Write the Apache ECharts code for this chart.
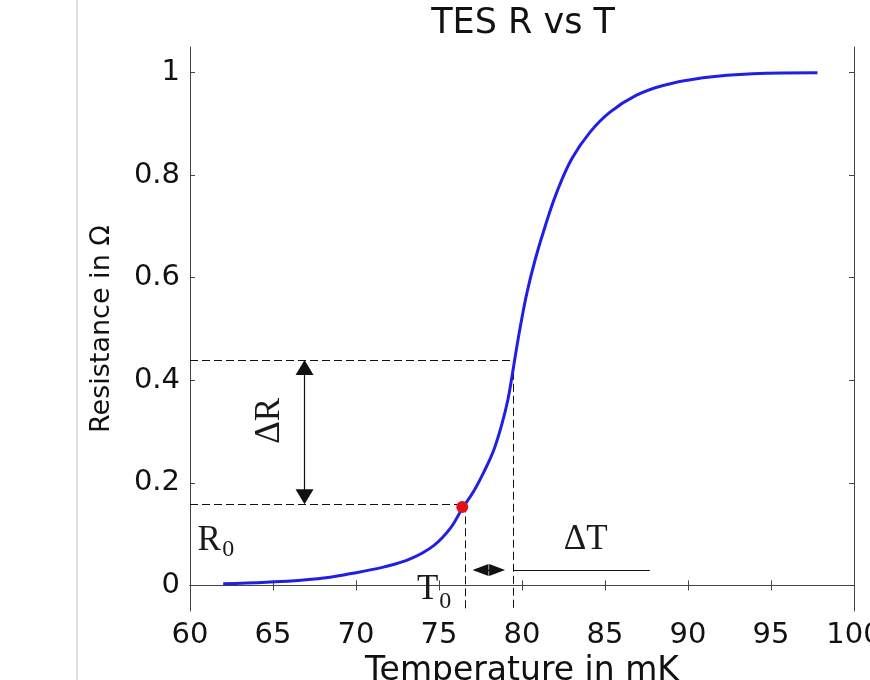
<!DOCTYPE html>
<html>
<head>
<meta charset="utf-8">
<script src="https://cdn.jsdelivr.net/npm/echarts@6/dist/echarts.min.js"></script>
<style>html,body{margin:0;padding:0;background:#fff}#c{width:870px;height:680px}</style>
</head>
<body>
<div id="c"></div>
<script>
// ---- data ----
const temps  = [62.0, 64.6, 67.7, 69.7, 71.7, 73.3, 74.7, 75.7, 76.4, 77.1, 77.7, 78.3, 78.8, 79.15, 79.4, 79.65, 79.9, 80.3, 80.8, 81.4, 82.1, 83.0, 84.1, 85.3, 86.9, 88.5, 90.9, 93.9, 97.8];
const resist = [0.003, 0.006, 0.013, 0.023, 0.036, 0.052, 0.078, 0.112, 0.150, 0.184, 0.221, 0.264, 0.316, 0.362, 0.408, 0.458, 0.505, 0.571, 0.636, 0.701, 0.767, 0.832, 0.884, 0.923, 0.956, 0.975, 0.990, 0.998, 1.000];
const xTicks = [60, 65, 70, 75, 80, 85, 90, 95, 100];
const yTicks = [0, 0.2, 0.4, 0.6, 0.8, 1];
const opPoint = [76.4, 0.153];          // red operating point
const lowMark  = {T: 76.6, R: 0.158};   // T0 / R0 dashed guides
const highMark = {T: 79.5, R: 0.44};    // upper dashed guides
const dRArrow  = {T: 66.9, R1: 0.425, R2: 0.173};   // vertical ΔR double arrow
const dTArrow  = {T1: 77.5, T2: 78.5, R: 0.03, lineEnd: 87.7};
const labels = [
  {text: 'R',  pos: [61.15, 0.086], size: 35},
  {text: '0',  pos: [62.30, 0.070], size: 24},
  {text: 'ΔR', pos: [64.78, 0.321], size: 35, rotate: 90},
  {text: 'T',  pos: [74.32, -0.008], size: 35},
  {text: '0',  pos: [75.38, -0.031], size: 24},
  {text: 'ΔT', pos: [83.83, 0.088], size: 35}
];
const yMin = -0.05, yMax = 1.05;

const chart = echarts.init(document.getElementById('c'));
const axisCol = '#444';
const dashed = {type: [8, 4], color: '#111', width: 1};
const arrowStyle = {type: 'solid', color: '#111', width: 1.2};

const option = {
  animation: false,
  backgroundColor: '#fff',
  title: {
    text: 'TES R vs T', left: 518, top: 1, textAlign: 'center',
    textStyle: {fontFamily: 'DejaVu Sans', fontSize: 35, fontWeight: 'normal', color: '#111'}
  },
  graphic: [{
    type: 'line', shape: {x1: 77, y1: 0, x2: 77, y2: 680},
    style: {stroke: '#e2e2e2', lineWidth: 2}, silent: true
  }],
  grid: {left: 190, right: 16, top: 47, bottom: 69, containLabel: false, outerBoundsMode: 'none'},
  xAxis: [{
    type: 'value', min: 60, max: 100, interval: 5, position: 'bottom',
    axisLine: {lineStyle: {color: axisCol}},
    axisTick: {inside: true, length: 5, lineStyle: {color: axisCol}},
    axisLabel: {fontFamily: 'DejaVu Sans', fontSize: 29, color: '#111', margin: 10, hideOverlap: false},
    splitLine: {show: false},
    name: 'Temperature in mK', nameLocation: 'middle', nameGap: 34,
    nameTextStyle: {fontFamily: 'DejaVu Sans', fontSize: 33, color: '#111'}
  }, {
    type: 'value', min: 60, max: 100, interval: 5, position: 'top',
    axisLine: {lineStyle: {color: axisCol}},
    axisTick: {inside: true, length: 5, lineStyle: {color: axisCol}},
    axisLabel: {show: false}, splitLine: {show: false}
  }],
  yAxis: [{
    type: 'value', min: yMin, max: yMax, position: 'left',
    axisLine: {show: true, lineStyle: {color: axisCol}},
    axisTick: {show: true, inside: true, length: 5, lineStyle: {color: axisCol}, customValues: yTicks},
    axisLabel: {fontFamily: 'DejaVu Sans', fontSize: 29, color: '#111', margin: 10, customValues: yTicks,
      formatter: v => String(Math.round(v * 10) / 10)},
    splitLine: {show: false},
    name: 'Resistance in Ω', nameLocation: 'middle', nameGap: 75, nameRotate: 90,
    nameTextStyle: {fontFamily: 'DejaVu Sans', fontSize: 27, color: '#111'}
  }, {
    type: 'value', min: yMin, max: yMax, position: 'right',
    axisLine: {show: true, lineStyle: {color: axisCol}},
    axisTick: {show: true, inside: true, length: 5, lineStyle: {color: axisCol}, customValues: yTicks},
    axisLabel: {show: false}, splitLine: {show: false}
  }],
  series: [
    {
      type: 'line', name: 'R(T)', data: temps.map((t, i) => [t, resist[i]]),
      smooth: 0.4, showSymbol: false, symbol: 'none',
      lineStyle: {color: '#1f1fe6', width: 3}, z: 5,
      markLine: {
        silent: true, symbol: 'none', label: {show: false}, animation: false,
        data: [
          [{coord: [60, highMark.R], lineStyle: dashed}, {coord: [highMark.T, highMark.R]}],
          [{coord: [highMark.T, highMark.R], lineStyle: dashed}, {coord: [highMark.T, yMin]}],
          [{coord: [60, lowMark.R], lineStyle: dashed}, {coord: [lowMark.T, lowMark.R]}],
          [{coord: [lowMark.T, lowMark.R], lineStyle: dashed}, {coord: [lowMark.T, yMin]}],
          [{coord: [highMark.T, dTArrow.R], lineStyle: arrowStyle}, {coord: [dTArrow.lineEnd, dTArrow.R]}]
        ]
      }
    },
    {
      type: 'line', name: 'arrows', data: [], symbol: 'none',
      markLine: {
        silent: true, symbol: ['triangle', 'triangle'], symbolSize: [18, 15],
        label: {show: false}, animation: false, lineStyle: arrowStyle,
        itemStyle: {color: '#111'},
        data: [
          [{coord: [dRArrow.T, dRArrow.R1]}, {coord: [dRArrow.T, dRArrow.R2]}],
          [{coord: [dTArrow.T1, dTArrow.R], symbolSize: [12, 16]}, {coord: [dTArrow.T2, dTArrow.R], symbolSize: [12, 16]}]
        ]
      }
    },
    {
      type: 'scatter', name: 'op', data: [opPoint], symbolSize: 12,
      itemStyle: {color: '#e3101a', opacity: 1}, z: 10
    },
    {
      type: 'scatter', name: 'labels', symbolSize: 0, silent: true,
      itemStyle: {opacity: 1},
      data: labels.map(l => ({
        value: l.pos,
        label: {show: true, formatter: l.text, position: 'inside', rotate: l.rotate || 0,
          align: 'center', verticalAlign: 'middle',
          fontFamily: 'Liberation Serif', fontSize: l.size, color: '#1a1a1a'}
      })),
      z: 8
    }
  ]
};
chart.setOption(option);
</script>
</body>
</html>
